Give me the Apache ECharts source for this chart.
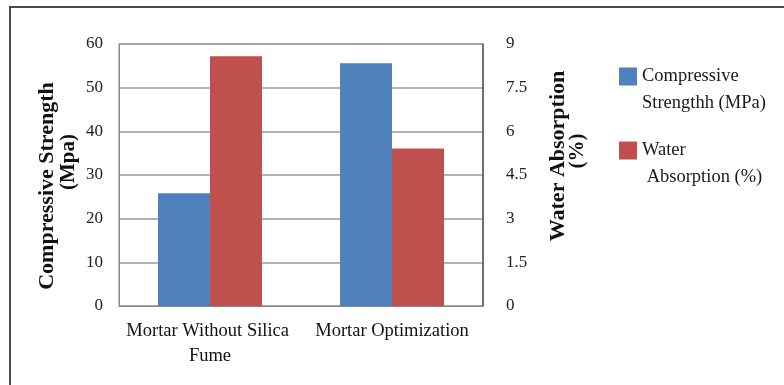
<!DOCTYPE html>
<html>
<head>
<meta charset="utf-8">
<style>
  html, body { margin: 0; padding: 0; background: #ffffff; }
  #chart { width: 784px; height: 385px; }
</style>
<script src="https://cdn.jsdelivr.net/npm/echarts@6/dist/echarts.min.js"></script>
</head>
<body>
<div id="chart"></div>
<script>
// Mortar mixes compared on strength (left axis) and water absorption (right axis)
const categories = ['Mortar Without Silica Fume', 'Mortar Optimization'];
const strengthValues = [25.8, 55.6];   // MPa
const absorptionValues = [8.58, 5.41]; // %
const strengthTicks = [0, 10, 20, 30, 40, 50, 60];
const absorptionTicks = [0, 1.5, 3, 4.5, 6, 7.5, 9];
const seriesNames = ['Compressive Strengthh (MPa)', 'Water Absorption (%)'];
const legendLines = {
  'Compressive Strengthh (MPa)': 'Compressive\nStrengthh (MPa)',
  'Water Absorption (%)': 'Water\n Absorption (%)'
};

const SERIF = '"Liberation Serif", "Times New Roman", serif';

// Swatch drawn in the top 18px of a 45px-tall symbol box, so that it lines up
// with the first line of a two-line legend label (the tiny tail sets the box height).
const SWATCH = 'path://M0,0L18,0L18,18L0,18Z M0,45L0.01,45L0.01,44.99Z';

const chart = echarts.init(document.getElementById('chart'));

chart.setOption({
  animation: false,
  backgroundColor: '#ffffff',
  grid: {
    left: 119, top: 44, width: 364, height: 262,
    show: true, borderColor: '#8a8a8a', borderWidth: 1
  },
  legend: {
    orient: 'vertical',
    left: 619, top: 63,
    padding: 0,
    itemWidth: 18, itemHeight: 45,
    itemGap: 20,
    icon: SWATCH,
    data: seriesNames,
    formatter: name => legendLines[name],
    textStyle: {
      fontFamily: SERIF, fontSize: 18.5, color: '#1a1a1a',
      lineHeight: 27
    }
  },
  xAxis: {
    type: 'category',
    data: categories,
    axisTick: { show: false },
    axisLine: { show: true, lineStyle: { color: '#8a8a8a' } },
    axisLabel: {
      fontFamily: SERIF, fontSize: 18.5, color: '#111',
      lineHeight: 25, margin: 13,
      width: 180, overflow: 'break', interval: 0
    }
  },
  yAxis: [
    {
      type: 'value',
      min: strengthTicks[0],
      max: strengthTicks[strengthTicks.length - 1],
      interval: strengthTicks[1] - strengthTicks[0],
      axisLine: { show: true, lineStyle: { color: '#8a8a8a' } },
      axisTick: { show: false },
      splitLine: { show: true, lineStyle: { color: '#9a9a9a', width: 1.5 } },
      axisLabel: { fontFamily: SERIF, fontSize: 17, color: '#222', margin: 16 }
    },
    {
      type: 'value',
      min: absorptionTicks[0],
      max: absorptionTicks[absorptionTicks.length - 1],
      interval: absorptionTicks[1] - absorptionTicks[0],
      axisLine: { show: true, lineStyle: { color: '#555', width: 1.5 } },
      axisTick: { show: false },
      splitLine: { show: false },
      axisLabel: { fontFamily: SERIF, fontSize: 17, color: '#222', margin: 23 }
    }
  ],
  series: [
    {
      name: seriesNames[0],
      type: 'bar',
      yAxisIndex: 0,
      data: strengthValues,
      barWidth: 52,
      barGap: '0%',
      itemStyle: { color: '#4f81bd' }
    },
    {
      name: seriesNames[1],
      type: 'bar',
      yAxisIndex: 1,
      data: absorptionValues,
      barWidth: 52,
      barGap: '0%',
      itemStyle: { color: '#c0504d' }
    }
  ],
  graphic: [
    // outer frame: left and top edges
    {
      type: 'polyline',
      shape: { points: [[10, 385], [10, 7], [784, 7]] },
      style: { stroke: '#4a4a4a', lineWidth: 2, fill: null },
      silent: true
    },
    // left axis title
    {
      type: 'text', x: 47, y: 186, rotation: Math.PI / 2,
      style: {
        text: 'Compressive Strength', fontFamily: SERIF, fontWeight: 'bold',
        fontSize: 22, fill: '#111', textAlign: 'center', textVerticalAlign: 'middle'
      }
    },
    {
      type: 'text', x: 69, y: 162, rotation: Math.PI / 2,
      style: {
        text: '(Mpa)', fontFamily: SERIF, fontWeight: 'bold',
        fontSize: 21, fill: '#111', textAlign: 'center', textVerticalAlign: 'middle'
      }
    },
    // right axis title
    {
      type: 'text', x: 558, y: 156, rotation: Math.PI / 2,
      style: {
        text: 'Water Absorption', fontFamily: SERIF, fontWeight: 'bold',
        fontSize: 22, fill: '#111', textAlign: 'center', textVerticalAlign: 'middle'
      }
    },
    {
      type: 'text', x: 578, y: 151, rotation: Math.PI / 2,
      style: {
        text: '(%)', fontFamily: SERIF, fontWeight: 'bold',
        fontSize: 21, fill: '#111', textAlign: 'center', textVerticalAlign: 'middle'
      }
    }
  ]
});
</script>
</body>
</html>
